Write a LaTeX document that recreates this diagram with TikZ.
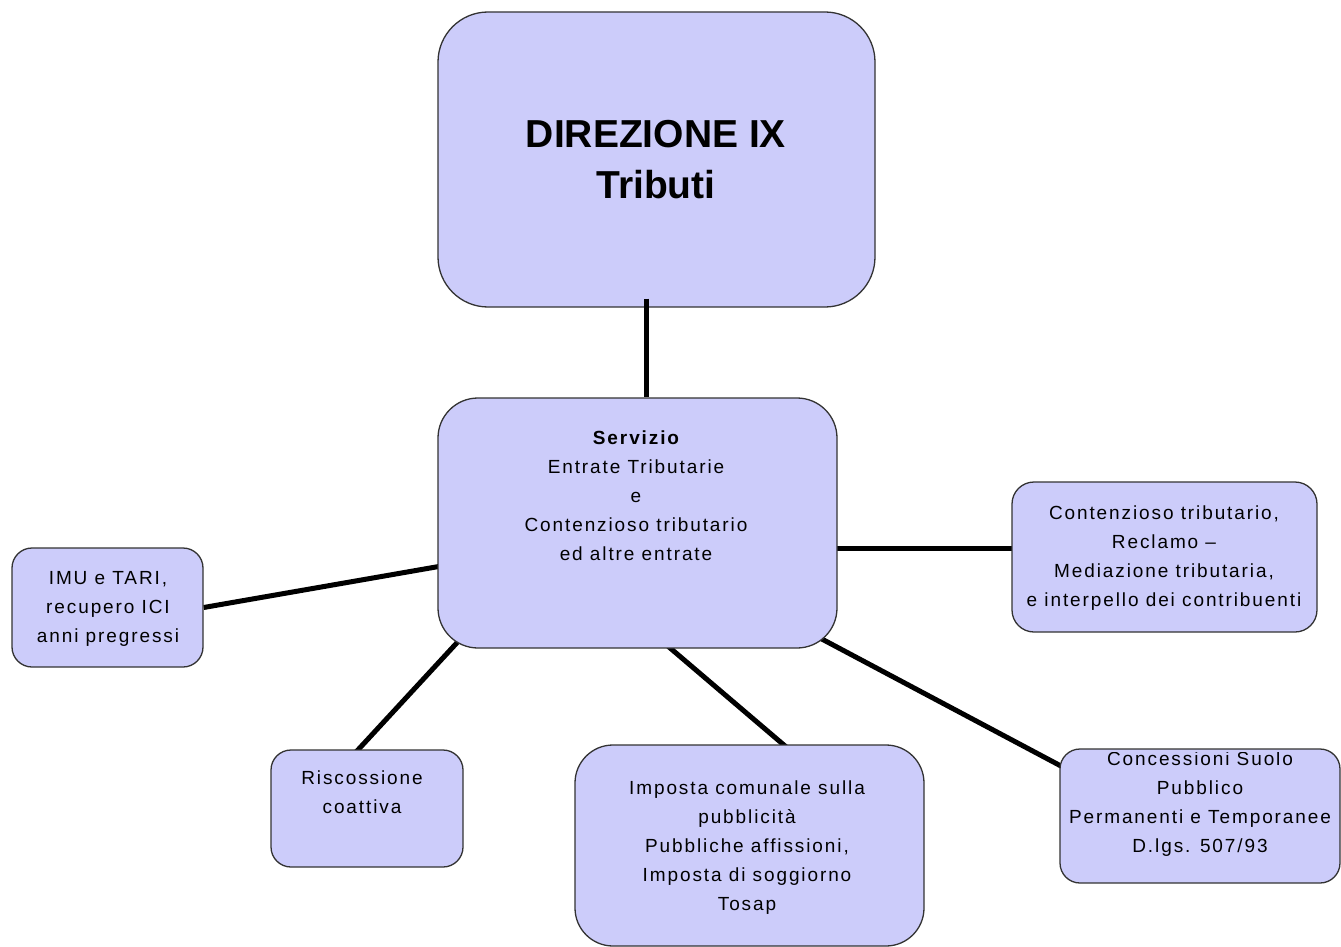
\documentclass[tikz,border=0pt]{standalone}
\usepackage{fontspec}
\setmainfont{Liberation Sans}
\newfontfamily\bodyfont[LetterSpace=10]{Liberation Sans}
\usetikzlibrary{calc,backgrounds}
\definecolor{lav}{RGB}{204,204,250}
\tikzset{
  box/.style={draw=black!80, line width=1.3pt, fill=lav, inner sep=0pt},
  conn/.style={line width=5pt, black},
  txt/.style={anchor=north, inner sep=0pt, align=center, font=\bodyfont\fontsize{19}{29}\selectfont},
}
\begin{document}
\begin{tikzpicture}[x=1pt,y=-1pt]
\useasboundingbox (0,0) rectangle (1341,947);
% boxes
\node[box, rounded corners=50pt, minimum width=437pt, minimum height=295pt] (top) at (656.5,159.5) {};
\node[box, rounded corners=40pt, minimum width=399pt, minimum height=250pt] (serv) at (637.5,523) {};
\node[box, rounded corners=20pt, minimum width=191pt, minimum height=119pt] (imu) at (107.5,607.5) {};
\node[box, rounded corners=22pt, minimum width=305pt, minimum height=150pt] (contz) at (1164.5,557) {};
\node[box, rounded corners=20pt, minimum width=192pt, minimum height=117pt] (risc) at (367,808.5) {};
\node[box, rounded corners=38pt, minimum width=349pt, minimum height=201pt] (imp) at (749.5,845.5) {};
\node[box, rounded corners=20pt, minimum width=280pt, minimum height=134pt] (conc) at (1200,816) {};
% connectors
\begin{scope}[on background layer]
\draw[conn] ($(serv.west)+(10,42)$) -- (imu.east);
\draw[conn] ($(serv.east)+(-10,25)$) -- ($(contz.west)+(10,-9)$);
\draw[conn] ($(serv.south west)+(28,-15)$) -- ($(risc.north)+(-15,7)$);
\draw[conn] ($(serv.south)+(27.5,-5)$) -- ($(imp.north)+(39.5,5)$);
\draw[conn] ($(serv.south east)+(-24,-14)$) -- ($(conc.west)+(11,-45)$);
\end{scope}
\draw[conn] ($(top.south)+(-10.5,-9)$) -- ($(serv.north)+(8.5,0)$);
% texts
\node[txt, font=\bfseries\fontsize{39}{51}\selectfont] (toptxt) at (656,120) {DIREZIONE IX\\Tributi};
\node[txt] (servtxt) at (636,431) {{\bfseries Servizio}\\Entrate Tributarie\\e\\Contenzioso tributario\\ed altre entrate};
\node[txt] (contztxt) at (1164,506) {Contenzioso tributario,\\Reclamo –\\Mediazione tributaria,\\e interpello dei contribuenti};
\node[txt] (imutxt) at (108,571) {IMU e TARI,\\recupero ICI\\anni pregressi};
\node[txt] (risctxt) at (362,771) {Riscossione\\coattiva};
\node[txt] (imptxt) at (747,781) {Imposta comunale sulla\\pubblicità\\Pubbliche affissioni,\\Imposta di soggiorno\\Tosap};
\begin{scope}
\clip (1060,752) rectangle (1341,883);
\node[txt] (conctxt) at (1200,752) {Concessioni Suolo\\Pubblico\\Permanenti e Temporanee\\D.lgs. 507/93};
\end{scope}
\end{tikzpicture}
\end{document}
